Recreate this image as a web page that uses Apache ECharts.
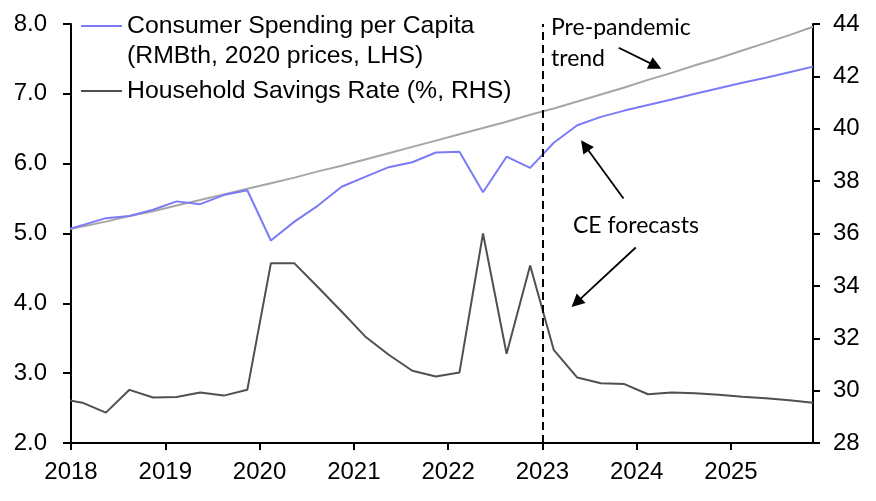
<!DOCTYPE html>
<html>
<head>
<meta charset="utf-8">
<script src="https://cdn.jsdelivr.net/npm/echarts@6/dist/echarts.min.js"></script>
<style>
html,body{margin:0;padding:0;background:#fff;}
#chart{width:876px;height:501px;}
</style>
</head>
<body>
<div id="chart"></div>
<script>
// Quarters (first one sits just left of the axis and is clipped)
const quarters = ['2017Q4',
  '2018Q1','2018Q2','2018Q3','2018Q4','2019Q1','2019Q2','2019Q3','2019Q4',
  '2020Q1','2020Q2','2020Q3','2020Q4','2021Q1','2021Q2','2021Q3','2021Q4',
  '2022Q1','2022Q2','2022Q3','2022Q4','2023Q1','2023Q2','2023Q3','2023Q4',
  '2024Q1','2024Q2','2024Q3','2024Q4','2025Q1','2025Q2','2025Q3','2025Q4'];

// Consumer spending per capita (RMBth, 2020 prices) - LHS
const spending = [5.02,
  5.12,5.22,5.25,5.34,5.46,5.42,5.55,5.62,
  4.90,5.17,5.40,5.67,5.81,5.95,6.02,6.16,
  6.17,5.59,6.10,5.94,6.30,6.55,6.67,6.76,
  6.84,6.92,7.00,7.08,7.16,7.23,7.31,7.39];

// Pre-pandemic trend - LHS
const trend = [5.03,
  5.10,5.17,5.25,5.32,5.40,5.48,5.56,5.64,
  5.72,5.80,5.89,5.97,6.06,6.15,6.24,6.33,
  6.42,6.51,6.60,6.70,6.79,6.89,6.99,7.09,
  7.20,7.30,7.41,7.51,7.62,7.73,7.84,7.96];

// Household savings rate (%) - RHS
const savings = [29.70,
  29.54,29.16,30.03,29.74,29.76,29.93,29.81,30.03,
  34.86,34.86,33.95,33.02,32.07,31.37,30.76,30.54,
  30.69,36.00,31.41,34.78,31.56,30.50,30.28,30.25,
  29.86,29.93,29.90,29.84,29.77,29.71,29.63,29.54];

const yearTicks = [2018,2019,2020,2021,2022,2023,2024,2025];

function qToX(q){
  const y = parseInt(q.slice(0,4),10);
  const n = parseInt(q.slice(5),10);
  return y + (n-1)*0.25 + 0.12;
}
const xs = quarters.map(qToX);
const pair = arr => arr.map((v,i)=>[xs[i], v]);

const FONT = '"Liberation Sans", Arial, sans-serif';
const NOTE = 'Lato, "Open Sans", sans-serif';

const chart = echarts.init(document.getElementById('chart'));
const option = {
  animation: false,
  backgroundColor: '#fff',
  grid: {left: 71, right: 63, top: 24, bottom: 58},
  legend: {
    orient: 'vertical', left: 81, top: 12, padding: 0,
    icon: 'rect', itemWidth: 41, itemHeight: 2, itemGap: 37,
    data: ['Consumer Spending per Capita', 'Household Savings Rate (%, RHS)'],
    textStyle: {fontFamily: FONT, fontSize: 24.8, color: '#000', lineHeight: 28},
    selectedMode: false
  },
  xAxis: {
    type: 'value', min: 2018, max: 2025.87, interval: 1,
    axisLine: {show: true, onZero: false, lineStyle: {color: '#000', width: 2}},
    axisTick: {show: true, length: 7, customValues: yearTicks, lineStyle: {color: '#000', width: 2}},
    axisLabel: {customValues: yearTicks, fontFamily: FONT, fontSize: 24, color: '#000', margin: 17,
      formatter: v => String(Math.round(v))},
    splitLine: {show: false}
  },
  yAxis: [{
    type: 'value', position: 'left', min: 2, max: 8, interval: 1,
    axisLine: {show: true, lineStyle: {color: '#000', width: 2}},
    axisTick: {show: true, length: 8, lineStyle: {color: '#000', width: 2}},
    axisLabel: {fontFamily: FONT, fontSize: 24, color: '#000', margin: 24, formatter: v => v.toFixed(1)},
    splitLine: {show: false}
  }, {
    type: 'value', position: 'right', min: 28, max: 44, interval: 2,
    axisLine: {show: true, lineStyle: {color: '#000', width: 2}},
    axisTick: {show: true, length: 7, lineStyle: {color: '#000', width: 2}},
    axisLabel: {fontFamily: FONT, fontSize: 24, color: '#000', margin: 20},
    splitLine: {show: false}
  }],
  series: [{
    name: 'Pre-pandemic trend', type: 'line', yAxisIndex: 0,
    data: pair(trend), symbol: 'none', z: 2,
    lineStyle: {color: '#a6a6a6', width: 2}, itemStyle: {color: '#a6a6a6'}
  }, {
    name: 'Household Savings Rate (%, RHS)', type: 'line', yAxisIndex: 1,
    data: pair(savings), symbol: 'none', z: 3,
    lineStyle: {color: '#505050', width: 2}, itemStyle: {color: '#505050'},
    markLine: {
      silent: true, symbol: ['none','none'], animation: false,
      label: {show: false},
      lineStyle: {color: '#000', width: 2, type: [8,5]},
      data: [{xAxis: 2023}]
    }
  }, {
    name: 'Consumer Spending per Capita', type: 'line', yAxisIndex: 0,
    data: pair(spending), symbol: 'none', z: 4,
    lineStyle: {color: '#7b7bf7', width: 2}, itemStyle: {color: '#7b7bf7'},
    markLine: {
      silent: true, animation: false,
      symbol: ['none','triangle'], symbolSize: 13,
      label: {show: false},
      lineStyle: {color: '#000', width: 1.8, type: 'solid'},
      data: [
        [{coord: [2023.81, 7.66]}, {coord: [2024.20, 7.40]}],
        [{coord: [2023.86, 5.50]}, {coord: [2023.45, 6.26]}],
        [{coord: [2023.99, 4.80]}, {coord: [2023.36, 4.01]}]
      ]
    }
  }],
  graphic: [
    {type: 'text', left: 127, top: 44, style: {text: '(RMBth, 2020 prices, LHS)', font: '24.8px ' + FONT, fill: '#000'}},
    {type: 'text', left: 551, top: 16, style: {text: 'Pre-pandemic', font: '23px ' + NOTE, fill: '#000'}},
    {type: 'text', left: 551, top: 47, style: {text: 'trend', font: '23px ' + NOTE, fill: '#000'}},
    {type: 'text', left: 573, top: 214, style: {text: 'CE forecasts', font: '23px ' + NOTE, fill: '#000'}}
  ]
};
chart.setOption(option);
</script>
</body>
</html>
